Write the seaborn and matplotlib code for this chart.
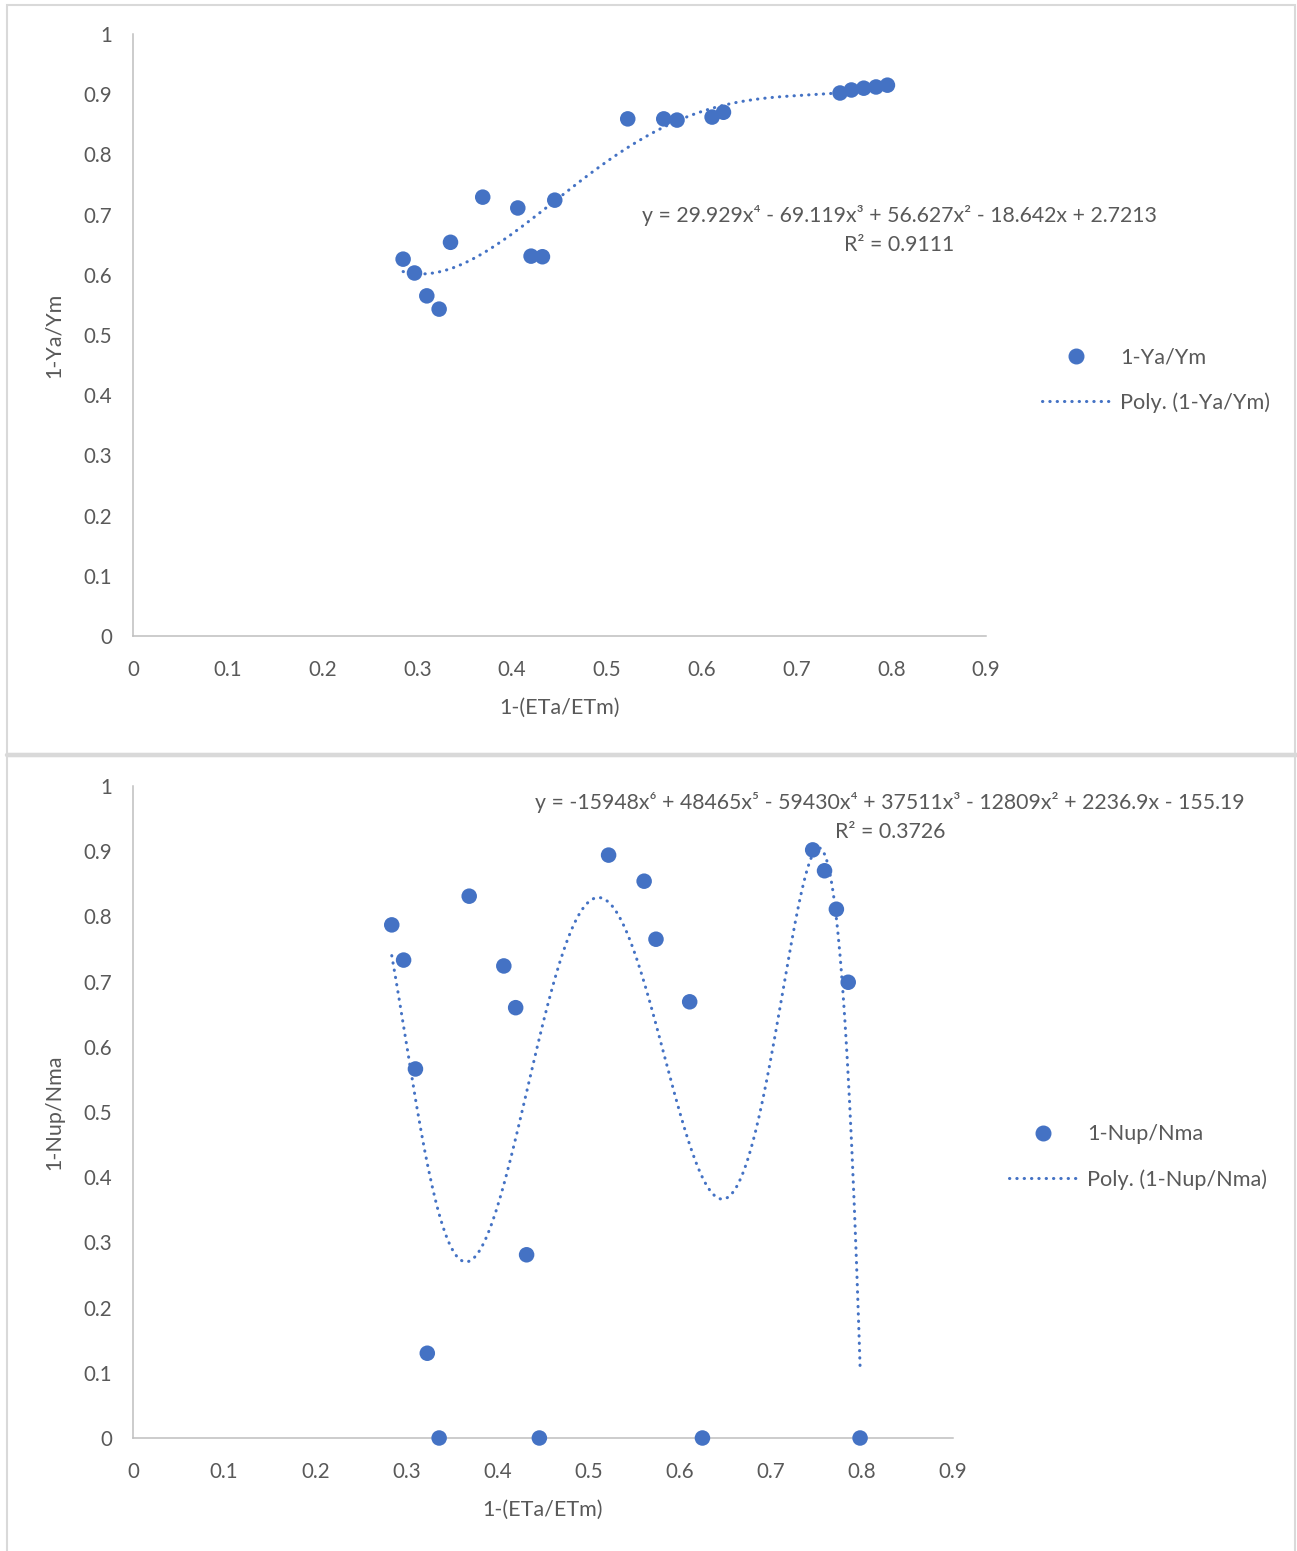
import numpy as np
import matplotlib
matplotlib.use("Agg")
import matplotlib.pyplot as plt
from matplotlib.patches import Rectangle
from matplotlib.lines import Line2D
import seaborn as sns

# Data
eta_frac = [0.285, 0.297, 0.310, 0.323, 0.335, 0.369, 0.406, 0.420, 0.432, 0.445,
            0.522, 0.560, 0.574, 0.611, 0.623, 0.746, 0.758, 0.771, 0.784, 0.796]
ya_ym = [0.626, 0.603, 0.565, 0.543, 0.654, 0.729, 0.711, 0.631, 0.630, 0.724,
         0.859, 0.859, 0.857, 0.862, 0.870, 0.902, 0.907, 0.910, 0.912, 0.915]

eta_frac_n = [0.284, 0.297, 0.310, 0.323, 0.336, 0.369, 0.407, 0.420, 0.432, 0.446,
              0.522, 0.561, 0.574, 0.611, 0.625, 0.746, 0.759, 0.772, 0.785, 0.798]
nup_nma = [0.787, 0.733, 0.566, 0.130, 0.0, 0.831, 0.724, 0.660, 0.281, 0.0,
           0.894, 0.854, 0.765, 0.669, 0.0, 0.902, 0.870, 0.811, 0.699, 0.0]

ticks_x = [0, 0.1, 0.2, 0.3, 0.4, 0.5, 0.6, 0.7, 0.8, 0.9]
ticks_y = [0, 0.1, 0.2, 0.3, 0.4, 0.5, 0.6, 0.7, 0.8, 0.9, 1]

eq_top = "y = 29.929x\u2074 - 69.119x\u00b3 + 56.627x\u00b2 - 18.642x + 2.7213\nR\u00b2 = 0.9111"
eq_bot = ("y = -15948x\u2076 + 48465x\u2075 - 59430x\u2074 + 37511x\u00b3 - 12809x\u00b2 + 2236.9x - 155.19"
          "\nR\u00b2 = 0.3726")

BLUE = "#4472C4"
GRID = "#bfbfbf"
TXT = "#595959"
W, H = 1297, 1551
DOTS = (0, (0.1, 2.3))

sns.set_theme(style="white")
plt.rcParams["font.family"] = ["Lato", "DejaVu Sans"]
plt.rcParams["text.color"] = TXT


def fx(px):
    return px / W


def fy(py):
    return 1 - py / H


def style_axes(ax, xlabel, ylabel):
    ax.set_xlim(0, 0.9)
    ax.set_ylim(0, 1)
    ax.set_xticks(ticks_x)
    ax.set_xticklabels(["0"] + [f"{t:g}" for t in ticks_x[1:]])
    ax.set_yticks(ticks_y)
    ax.set_yticklabels([f"{t:g}" for t in ticks_y])
    for s in ["top", "right"]:
        ax.spines[s].set_visible(False)
    for s in ["left", "bottom"]:
        ax.spines[s].set_color(GRID)
        ax.spines[s].set_linewidth(1.1)
    ax.tick_params(axis="both", colors=GRID, labelcolor=TXT, labelsize=14.8,
                   length=5, width=1.1, direction="out")
    ax.tick_params(axis="y", pad=10)
    ax.tick_params(axis="x", pad=12)
    ax.set_xlabel(xlabel, fontsize=15.5, color=TXT, labelpad=13)
    ax.set_ylabel(ylabel, fontsize=15.5, color=TXT, labelpad=14)
    ax.grid(False)
    ax.set_facecolor("none")


def draw_panel(ax, x, y, deg, name, eq, eq_xy, leg_xy):
    df_x = np.array(x)
    df_y = np.array(y)
    sns.scatterplot(x=df_x, y=df_y, ax=ax, s=125, color=BLUE, edgecolor="none",
                    clip_on=False, zorder=3)
    # polynomial trendline fitted to the points, like Excel does
    coef = np.polyfit(df_x, df_y, deg)
    xs = np.linspace(df_x.min(), df_x.max(), 400)
    sns.lineplot(x=xs, y=np.polyval(coef, xs), ax=ax, color=BLUE, lw=2.2,
                 linestyle=DOTS, dash_capstyle="round",
                 estimator=None, sort=False, zorder=2)
    handles = [Line2D([], [], marker="o", ls="none", color=BLUE, markersize=10.5),
               Line2D([], [], color=BLUE, lw=2.2, linestyle=DOTS,
                      dash_capstyle="round")]
    ax.legend(handles, [name, f"Poly. ({name})"], loc="center left",
              bbox_to_anchor=leg_xy, bbox_transform=ax.figure.transFigure,
              frameon=False, fontsize=15.6, handlelength=3.1, handletextpad=0.5,
              labelspacing=1.15, borderpad=0, borderaxespad=0, labelcolor=TXT)
    ax.figure.text(eq_xy[0], eq_xy[1], eq, ha="center", va="center", fontsize=15.3,
                   color=TXT, multialignment="center", linespacing=1.6)


fig = plt.figure(figsize=(W / 100, H / 100), dpi=100)

# chart area borders
fig.patches.append(Rectangle((fx(7), fy(754)), fx(1295 - 7), 749 / H, transform=fig.transFigure,
                             fill=False, edgecolor="#d9d9d9", lw=1.5))
fig.patches.append(Rectangle((fx(7), fy(1560)), fx(1295 - 7), 804 / H, transform=fig.transFigure,
                             fill=False, edgecolor="#d9d9d9", lw=1.5))
fig.add_artist(Line2D([fx(7), fx(1297)], [fy(755), fy(755)], color="#d9d9d9", lw=3.2))

ax1 = fig.add_axes([fx(133), fy(636), fx(986 - 133), (636 - 34) / H])
draw_panel(ax1, eta_frac, ya_ym, 4, "1-Ya/Ym", eq_top, (fx(899), fy(230)), (fx(1042), fy(380)))
style_axes(ax1, "1-(ETa/ETm)", "1-Ya/Ym")

ax2 = fig.add_axes([fx(133), fy(1438), fx(953 - 133), (1438 - 786) / H])
draw_panel(ax2, eta_frac_n, nup_nma, 6, "1-Nup/Nma", eq_bot, (fx(890), fy(817)), (fx(1009), fy(1157)))
style_axes(ax2, "1-(ETa/ETm)", "1-Nup/Nma")

fig.savefig("out.png", dpi=100)
